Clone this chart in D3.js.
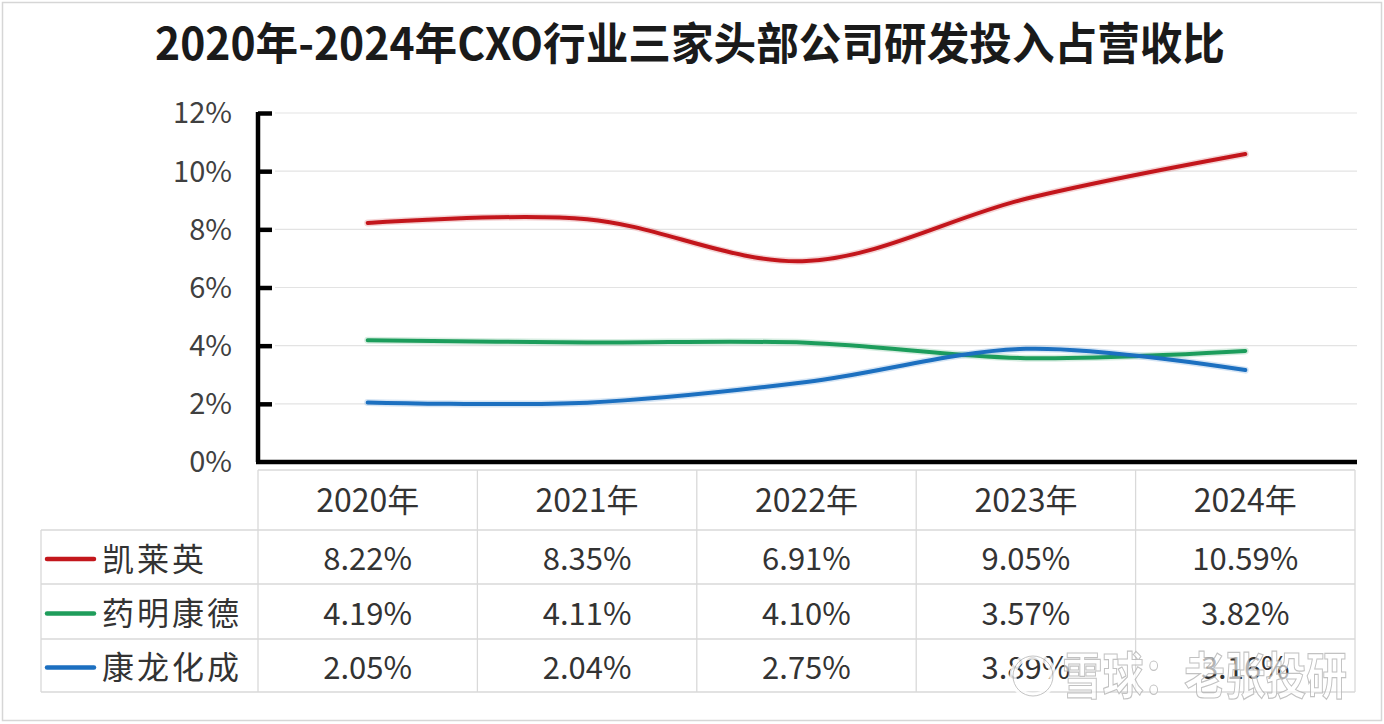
<!DOCTYPE html>
<html><head><meta charset="utf-8">
<script src="https://cdn.jsdelivr.net/npm/d3@7"></script>
<style>
html,body{margin:0;padding:0;background:#fff;}
svg{display:block;}
</style></head>
<body>
<svg id="chart" width="1384" height="724"></svg>
<script>
const title = "2020年-2024年CXO行业三家头部公司研发投入占营收比";
const years = ["2020年","2021年","2022年","2023年","2024年"];
const seriesNames = ["凯莱英","药明康德","康龙化成"];
const seriesColors = ["#c3171c","#1f9d5b","#1c6fc0"];
const kailaiying = [8.22, 8.35, 6.91, 9.05, 10.59];
const yaoming = [4.19, 4.11, 4.10, 3.57, 3.82];
const kanglong = [2.05, 2.04, 2.75, 3.89, 3.16];
const yTicks = [0,2,4,6,8,10,12];
const seriesValues = [kailaiying, yaoming, kanglong];

(function(){
const svg = d3.select("#chart");
const W = 1384, H = 724;
const font = "'Noto Sans CJK SC','Noto Sans',sans-serif";

svg.append("rect").attr("x",2.5).attr("y",2.5).attr("width",W-5).attr("height",H-6)
  .attr("fill","#fff").attr("stroke","#d6d6d6").attr("stroke-width",1.5);

svg.append("text").attr("x",155).attr("y",60)
  .attr("font-family",font).attr("font-weight","bold").attr("font-size",44)
  .attr("fill","#1a1a1a").attr("textLength",1070).attr("lengthAdjust","spacingAndGlyphs")
  .text(title);

const pl = 258, pr = 1355, pt = 113, pb = 462;
const x = d3.scaleBand().domain(years).range([pl,pr]);
const y = d3.scaleLinear().domain([0,12]).range([pb,pt]);

svg.append("g").selectAll("line").data(yTicks.filter(d=>d>0)).join("line")
  .attr("x1",275).attr("x2",1357).attr("y1",d=>y(d)).attr("y2",d=>y(d))
  .attr("stroke","#e3e3e3").attr("stroke-width",1.2);

const yAxis = svg.append("g").attr("transform",`translate(${pl},0)`)
  .call(d3.axisRight(y).tickValues(yTicks).tickSize(14).tickFormat(d=>d+"%"));
yAxis.select(".domain").attr("stroke","#000").attr("stroke-width",4.5)
  .attr("d",`M0,${pt-1}V${pb}`);
yAxis.selectAll(".tick line").attr("stroke","#000").attr("stroke-width",4.5);
yAxis.selectAll(".tick text").attr("x",-26).attr("text-anchor","end")
  .attr("font-family",font).attr("font-size",29).attr("fill","#404040").attr("dy","0.34em");
yAxis.selectAll(".tick").filter(d=>d===0).select("line").remove();

svg.append("line").attr("x1",pl-2).attr("x2",pr+2).attr("y1",pb).attr("y2",pb)
  .attr("stroke","#000").attr("stroke-width",4.5);

const line = d3.line().x((d,i)=>x(years[i])+x.bandwidth()/2).y(d=>y(d))
  .curve(d3.curveCardinal.tension(0));
const defs = svg.append("defs");
defs.append("filter").attr("id","soft").append("feGaussianBlur").attr("stdDeviation",0.6);
seriesValues.forEach((vals,k)=>{
  svg.append("path").datum(vals).attr("d",line).attr("fill","none")
    .attr("stroke",seriesColors[k]).attr("stroke-width",7).attr("stroke-opacity",0.18)
    .attr("stroke-linecap","round");
  svg.append("path").datum(vals).attr("d",line).attr("fill","none")
    .attr("stroke",seriesColors[k]).attr("stroke-width",4).attr("stroke-linecap","round")
    .attr("filter","url(#soft)");
});

const rowY = [470,530,584,639,692];
const tableLeft = 41;
const tg = svg.append("g");
const gridColor = "#d9d9d9";
tg.append("line").attr("x1",pl).attr("x2",pr).attr("y1",rowY[0]).attr("y2",rowY[0]).attr("stroke",gridColor).attr("stroke-width",1.3);
for(let i=1;i<rowY.length;i++){
  tg.append("line").attr("x1",tableLeft).attr("x2",pr).attr("y1",rowY[i]).attr("y2",rowY[i]).attr("stroke",gridColor).attr("stroke-width",1.3);
}
tg.append("line").attr("x1",tableLeft).attr("x2",tableLeft).attr("y1",rowY[1]).attr("y2",rowY[4]).attr("stroke",gridColor).attr("stroke-width",1.3);
const colEdges = years.map(d=>x(d)).concat([pr]);
colEdges.forEach(cx=>{
  tg.append("line").attr("x1",cx).attr("x2",cx).attr("y1",rowY[0]).attr("y2",rowY[4]).attr("stroke",gridColor).attr("stroke-width",1.3);
});
tg.selectAll("text.hdr").data(years).join("text").attr("class","hdr")
  .attr("x",d=>x(d)+x.bandwidth()/2).attr("y",(rowY[0]+rowY[1])/2).attr("dy","0.36em")
  .attr("text-anchor","middle").attr("font-family",font).attr("font-size",32).attr("fill","#333")
  .text(d=>d);
seriesValues.forEach((vals,k)=>{
  const cy = (rowY[k+1]+rowY[k+2])/2 + 2;
  tg.append("line").attr("x1",47).attr("x2",94).attr("y1",cy).attr("y2",cy)
    .attr("stroke",seriesColors[k]).attr("stroke-width",4.5).attr("stroke-linecap","round");
  tg.append("text").attr("x",102).attr("y",cy).attr("dy","0.36em")
    .attr("font-family",font).attr("font-size",32).attr("letter-spacing",3).attr("fill","#333")
    .text(seriesNames[k]);
  tg.selectAll(null).data(vals).join("text")
    .attr("x",(d,i)=>x(years[i])+x.bandwidth()/2).attr("y",cy).attr("dy","0.36em")
    .attr("text-anchor","middle").attr("font-family",font).attr("font-size",31).attr("fill","#333")
    .text(d=>d.toFixed(2)+"%");
});

const wm = svg.append("g").attr("opacity",0.85);
wm.append("circle").attr("cx",1033).attr("cy",676).attr("r",20).attr("fill","none")
  .attr("stroke","#fff").attr("stroke-width",7);
wm.append("circle").attr("cx",1033).attr("cy",676).attr("r",20).attr("fill","none")
  .attr("stroke","#bbb").attr("stroke-width",1);
wm.append("text").attr("x",1062).attr("y",694).attr("font-family",font).attr("font-size",50)
  .attr("font-weight","bold").attr("fill","#fff").attr("fill-opacity",0.75).attr("stroke","#b8b8b8").attr("stroke-width",1.2)
  .attr("textLength",285).attr("lengthAdjust","spacingAndGlyphs")
  .text("雪球：老张投研");
})();
</script>
</body></html>
